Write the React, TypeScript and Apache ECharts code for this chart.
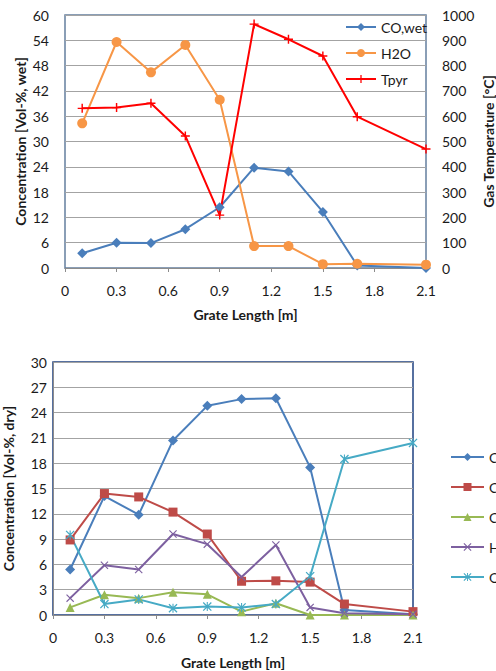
import React, { useEffect, useRef } from "react";
import * as echarts from "echarts";

const gratePos = [0.1, 0.3, 0.5, 0.7, 0.9, 1.1, 1.3, 1.5, 1.7, 2.1];

// Top chart (wet)
const coWet = [3.5, 6.0, 5.9, 9.2, 14.4, 23.8, 22.9, 13.3, 0.6, 0.0];
const h2oWet = [34.3, 53.6, 46.4, 52.9, 39.9, 5.2, 5.2, 0.9, 1.0, 0.8];
const tPyr = [631, 634, 651, 522, 209, 964, 904, 838, 598, 470];

// Bottom chart (dry)
const coDry = [5.4, 14.1, 11.9, 20.7, 24.8, 25.6, 25.7, 17.5, 0.6, 0.1];
const co2Dry = [8.9, 14.4, 14.0, 12.2, 9.6, 4.0, 4.05, 3.9, 1.3, 0.4];
const ch4Dry = [0.9, 2.4, 2.0, 2.7, 2.45, 0.4, 1.4, 0.0, 0.0, 0.0];
const h2Dry = [2.0, 5.9, 5.4, 9.6, 8.4, 4.5, 8.3, 0.9, 0.2, 0.1];
const o2Dry = [9.5, 1.3, 1.85, 0.8, 1.0, 0.9, 1.3, 4.6, 18.5, 20.4];

const FONT = "Lato, 'Noto Sans', sans-serif";
const GRID_COLOR = "#a3a3a3";
const AXIS_GRAY = "#8c8c8c";

const PLUS = "path://M4.2,0 L5.8,0 L5.8,10 L4.2,10 Z M0,4.2 L10,4.2 L10,5.8 L0,5.8 Z";
const CROSS = "path://M0,1 L1,0 L10,9 L9,10 Z M9,0 L10,1 L1,10 L0,9 Z";
const STAR = "path://M0,1 L1,0 L10,9 L9,10 Z M9,0 L10,1 L1,10 L0,9 Z M4.4,0 L5.6,0 L5.6,10 L4.4,10 Z";

const pairs = (ys: number[]) => gratePos.map((x, i) => [x, ys[i]]);
const xFmt = (v: number) => (v === 0 ? "0" : v.toFixed(1));
const intFmt = (v: number) => String(Math.round(v));

function lineSeries(name: string, data: number[], color: string, symbol: string, size: number, gridIdx: number, yIdx: number) {
  return {
    name,
    type: "line",
    xAxisIndex: gridIdx,
    yAxisIndex: yIdx,
    data: pairs(data),
    symbol,
    symbolSize: size,
    showAllSymbol: true,
    lineStyle: { color, width: 2 },
    itemStyle: { color, borderColor: color, borderWidth: 0 },
    emphasis: { disabled: true },
  };
}

export default function App() {
  const ref = useRef<HTMLDivElement>(null);
  useEffect(() => {
    if (!ref.current) return;
    const chart = echarts.init(ref.current, undefined, { renderer: "svg" });
    const labelStyle = { color: "#1a1a1a", fontSize: 14, fontFamily: FONT };
    const nameStyle = { color: "#1a1a1a", fontSize: 14, fontWeight: "bold" as const, fontFamily: FONT };
    const xAxisCommon = {
      type: "value",
      min: 0,
      max: 2.1,
      interval: 0.3,
      name: "Grate Length [m]",
      nameLocation: "middle",
      nameGap: 39,
      nameMoveOverlap: false,
      nameTextStyle: nameStyle,
      axisLine: { show: true, lineStyle: { color: AXIS_GRAY, width: 1 } },
      axisTick: { show: true, inside: false, length: 4, lineStyle: { color: AXIS_GRAY } },
      axisLabel: { ...labelStyle, margin: 15, formatter: xFmt },
      splitLine: { show: false },
    };
    chart.setOption({
      animation: false,
      textStyle: { fontFamily: FONT },
      grid: [
        { left: 65, top: 15, width: 361, height: 253, outerBoundsMode: "none", containLabel: false, show: true, borderColor: "#647f9f", borderWidth: 1.5, backgroundColor: "transparent" },
        { left: 53, top: 362, width: 360, height: 253, outerBoundsMode: "none", containLabel: false, show: true, borderColor: "#1f4181", borderWidth: 1.5, backgroundColor: "transparent" },
      ],
      xAxis: [
        { ...xAxisCommon, gridIndex: 0 },
        { ...xAxisCommon, gridIndex: 1, nameGap: 40 },
      ],
      yAxis: [
        {
          gridIndex: 0,
          type: "value",
          min: 0,
          max: 60,
          interval: 6,
          name: "Concentration [Vol-%, wet]",
          nameLocation: "middle",
          nameGap: 38,
          nameMoveOverlap: false,
          nameTextStyle: nameStyle,
          axisLine: { show: false },
          axisTick: { show: false },
          axisLabel: { ...labelStyle, margin: 16, formatter: intFmt },
          splitLine: { show: true, lineStyle: { color: GRID_COLOR, width: 1 } },
        },
        {
          gridIndex: 0,
          type: "value",
          position: "right",
          min: 0,
          max: 1000,
          interval: 100,
          name: "Gas Temperature [°C]",
          nameLocation: "middle",
          nameRotate: 90,
          nameGap: 55,
          nameMoveOverlap: false,
          nameTextStyle: nameStyle,
          axisLine: { show: false },
          axisTick: { show: false },
          axisLabel: { ...labelStyle, margin: 16, formatter: intFmt },
          splitLine: { show: false },
        },
        {
          gridIndex: 1,
          type: "value",
          min: 0,
          max: 30,
          interval: 3,
          name: "Concentration [Vol-%, dry]",
          nameLocation: "middle",
          nameGap: 38,
          nameMoveOverlap: false,
          nameTextStyle: nameStyle,
          axisLine: { show: true, lineStyle: { color: AXIS_GRAY, width: 1 } },
          axisTick: { show: false },
          axisLabel: { ...labelStyle, margin: 6, formatter: intFmt },
          splitLine: { show: true, lineStyle: { color: GRID_COLOR, width: 1 } },
        },
      ],
      legend: [
        {
          orient: "vertical",
          left: 340,
          top: 15,
          itemWidth: 30,
          itemHeight: 10,
          itemGap: 12,
          selectedMode: false,
          textStyle: { ...labelStyle, lineHeight: 14 },
          data: ["CO,wet", "H2O", "Tpyr"],
        },
        {
          orient: "vertical",
          left: 445,
          top: 445,
          itemWidth: 33,
          itemHeight: 10,
          itemGap: 16,
          selectedMode: false,
          textStyle: { ...labelStyle, lineHeight: 14 },
          data: ["CO", "CO2", "CH4", "H2", "O2"],
        },
      ],
      series: [
        lineSeries("CO,wet", coWet, "#4a7ebb", "diamond", 10, 0, 0),
        lineSeries("H2O", h2oWet, "#f79646", "circle", 10, 0, 0),
        lineSeries("Tpyr", tPyr, "#ff0000", PLUS, 9, 0, 1),
        lineSeries("CO", coDry, "#4a7ebb", "diamond", 10, 1, 2),
        lineSeries("CO2", co2Dry, "#be4b48", "rect", 9, 1, 2),
        lineSeries("CH4", ch4Dry, "#98b954", "triangle", 9, 1, 2),
        lineSeries("H2", h2Dry, "#7d60a0", CROSS, 8, 1, 2),
        lineSeries("O2", o2Dry, "#46aac5", STAR, 9, 1, 2),
      ],
    });
    return () => chart.dispose();
  }, []);
  return <div ref={ref} style={{ position: "absolute", left: 0, top: 0, width: 496, height: 671 }} />;
}
